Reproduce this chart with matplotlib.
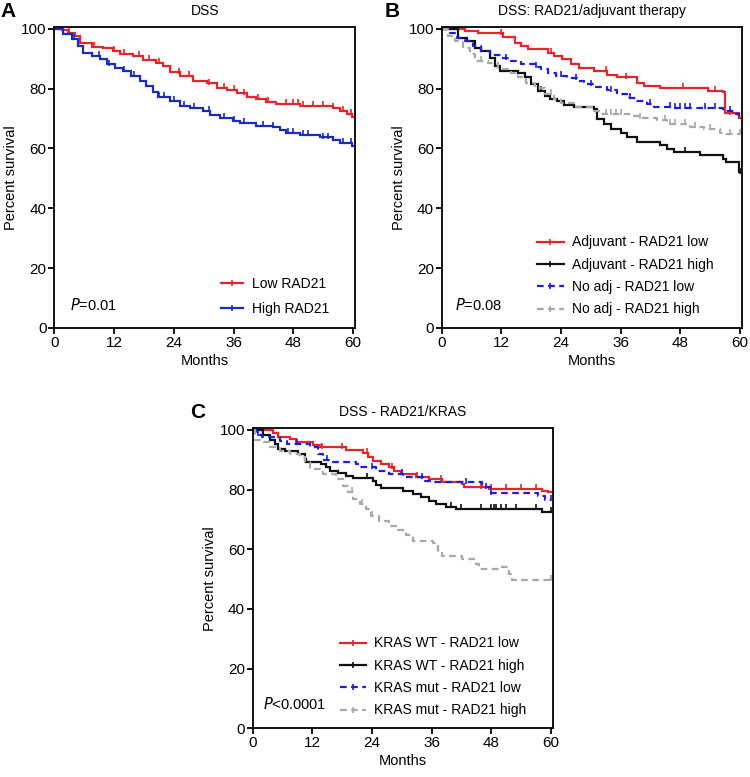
import numpy as np
import matplotlib
matplotlib.use('Agg')
from matplotlib import pyplot as plt
from matplotlib.lines import Line2D

plt.rcParams['font.family'] = ['Liberation Sans', 'DejaVu Sans']
plt.rcParams['font.size'] = 10.5

# ---- Panel A: DSS ----
a_low_t = [0, 1.5, 2.8, 4.1, 5.2, 7.5, 9.8, 11.8, 13.2, 15.9, 17.9, 20.5, 21.9, 23.2, 25.2, 27.9,
           30.6, 32.6, 34.6, 36.6, 38.6, 40.6, 42.6, 44.6, 49.3, 56.0, 57.3, 58.7, 59.7]
a_low_s = [100, 99.5, 98.7, 97.6, 95.3, 93.9, 93.5, 92.6, 91.7, 90.9, 89.5, 88.7, 87.6, 85.4, 84.3, 82.6,
           81.7, 80.2, 79.5, 78.4, 77.3, 76.5, 75.6, 74.8, 74.3, 73.5, 72.6, 71.5, 70.6]
a_high_t = [0, 1.8, 3.5, 4.8, 5.8, 7.5, 9.2, 10.5, 12.2, 13.8, 15.5, 17.2, 18.5, 19.9, 20.9, 23.2, 25.2,
            27.2, 29.9, 31.2, 33.2, 35.9, 37.3, 40.6, 43.9, 45.3, 46.6, 49.3, 53.3, 56.0, 57.3, 59.8]
a_high_s = [100, 98.1, 96.5, 94.2, 92.0, 90.9, 89.8, 88.1, 87.0, 85.9, 84.3, 82.6, 80.9, 78.7, 77.1, 75.9, 74.3,
            73.5, 72.6, 71.0, 70.2, 69.3, 68.4, 67.6, 67.3, 66.0, 65.1, 64.5, 63.7, 62.9, 61.8, 60.8]
a_low_c = [1, 3, 8, 12, 14, 17, 19, 21, 25, 27, 31, 34, 36, 38, 41, 43, 46.5, 48, 49, 50, 52, 54, 56, 58, 59.5]
a_high_c = [1, 4, 9, 11, 14, 16, 21, 22, 24, 26, 28, 31, 34, 36, 38, 42, 44, 47, 48, 50, 51, 54, 55, 58, 59.5]

# ---- Panel B: DSS: RAD21/adjuvant therapy ----
b_adj_low_t = [0, 4.7, 7.3, 12.3, 14.7, 16.0, 17.3, 21.3, 22.7, 24.3, 26.0, 27.7, 30.7, 33.3, 35.3,
               39.3, 40.7, 44.0, 53.7, 56.7, 57.0, 59.9]
b_adj_low_s = [100, 99.2, 98.4, 97.2, 95.3, 94.2, 93.1, 92.0, 90.9, 89.8, 88.3, 87.0, 85.9, 84.6, 83.7,
               82.0, 80.9, 80.1, 79.2, 78.7, 71.7, 70.0]
b_adj_high_t = [0, 3.3, 5.0, 6.7, 8.0, 9.7, 10.7, 11.7, 15.3, 16.7, 18.0, 19.3, 20.7, 21.7, 23.3, 24.7,
                26.7, 30.7, 31.3, 32.7, 34.0, 36.0, 37.3, 39.3, 44.0, 45.3, 46.7, 52.0, 56.7, 57.3, 59.9]
b_adj_high_s = [100, 97.0, 95.9, 93.7, 92.6, 90.3, 87.6, 85.7, 85.3, 83.7, 81.4, 79.2, 77.6, 76.4, 75.9, 74.6,
                73.7, 73.1, 69.8, 68.1, 66.4, 65.3, 63.7, 62.0, 61.2, 59.8, 58.7, 57.9, 56.4, 55.3, 52.0]
b_noadj_low_t = [0, 1.7, 3.0, 4.7, 6.3, 8.0, 9.7, 12.0, 14.0, 16.0, 18.7, 20.0, 21.3, 23.0, 25.3, 27.3,
                 28.7, 30.7, 33.3, 35.3, 37.3, 39.3, 41.3, 42.7, 46.7, 56.7, 59.3, 59.9]
b_noadj_low_s = [100, 98.7, 97.0, 95.9, 94.2, 92.6, 91.2, 90.1, 89.2, 88.1, 87.2, 86.4, 85.3, 84.2, 83.4, 82.6,
                 81.4, 80.6, 79.4, 78.1, 77.0, 75.9, 74.8, 73.9, 73.4, 72.6, 71.4, 69.5]
b_noadj_high_t = [0, 1.3, 2.7, 4.3, 5.7, 6.7, 9.3, 11.3, 14.0, 15.3, 17.0, 18.7, 20.7, 22.7, 24.0, 26.7,
                  30.7, 32.0, 38.7, 40.0, 43.3, 45.3, 50.0, 52.7, 56.0, 57.3]
b_noadj_high_s = [100, 97.6, 95.9, 93.7, 91.4, 89.2, 88.7, 86.4, 85.3, 83.7, 82.0, 80.1, 78.1, 76.4, 75.3, 73.7,
                  72.6, 71.4, 70.9, 70.3, 69.4, 68.1, 67.2, 66.4, 65.3, 64.8]
b_adj_low_c = [1, 12, 22, 33, 37, 48.5, 55, 58]
b_adj_high_c = [3, 20, 49, 60]
b_noadj_low_c = [1, 13, 19, 24, 27, 30, 34, 38, 42, 46, 47, 48, 49, 50, 53, 55, 58]
b_noadj_high_c = [8, 22, 33, 34, 35, 36, 40, 45, 46, 47, 49, 51, 54, 58, 60]

# ---- Panel C: DSS - RAD21/KRAS ----
c_wt_low_t = [0, 4.1, 5.1, 7.5, 8.8, 12.1, 13.5, 18.8, 22.2, 23.2, 24.2, 25.8, 27.5, 28.5, 29.8, 32.8,
              35.5, 38.2, 42.2, 42.5, 47.5, 58.2, 59.5]
c_wt_low_s = [100, 98.8, 97.7, 96.9, 95.8, 95.0, 94.1, 93.2, 92.4, 91.0, 89.6, 88.5, 87.4, 86.3, 85.2, 84.3,
              83.4, 82.6, 81.8, 80.7, 80.2, 79.6, 79.1]
c_wt_high_t = [0, 2.1, 3.5, 4.5, 5.1, 6.5, 9.1, 10.5, 10.8, 13.8, 14.8, 15.5, 17.2, 18.8, 20.2, 24.2, 24.8,
               25.8, 30.2, 32.2, 33.8, 35.5, 36.8, 38.9, 40.9, 58.2]
c_wt_high_s = [100, 98.3, 96.7, 95.2, 93.5, 92.8, 91.9, 90.2, 89.1, 88.5, 87.4, 86.3, 85.4, 84.6, 83.9, 83.0, 81.6,
               80.5, 79.6, 78.5, 77.4, 76.3, 75.2, 74.3, 73.5, 72.4]
c_mut_low_t = [0, 0.8, 1.8, 5.5, 6.8, 11.5, 13.2, 14.2, 15.5, 20.8, 21.5, 24.8, 27.5, 30.2, 34.2, 36.2,
               46.2, 47.9, 57.5, 58.9]
c_mut_low_s = [100, 98.3, 97.7, 96.3, 95.2, 94.1, 91.9, 89.9, 89.3, 88.5, 87.4, 86.3, 85.2, 84.1, 83.0, 82.4,
               80.7, 78.7, 77.9, 76.5]
c_mut_high_t = [0, 0.5, 1.5, 3.5, 5.5, 7.5, 9.5, 10.5, 11.5, 14.2, 16.8, 18.2, 19.2, 20.2, 21.5, 22.8, 23.8,
                25.5, 27.5, 29.2, 30.8, 32.2, 36.2, 37.2, 38.2, 42.2, 44.9, 45.5, 49.5, 51.5, 52.2]
c_mut_high_s = [100, 96.7, 95.8, 94.1, 93.0, 91.9, 90.8, 89.1, 86.9, 85.2, 83.5, 81.3, 79.1, 76.8, 75.2, 73.5, 71.3,
                69.6, 67.9, 66.3, 64.6, 62.9, 62.0, 59.0, 57.6, 56.8, 55.1, 53.5, 54.0, 51.8, 49.6]
c_wt_low_c = [1, 3, 14, 18, 23, 28, 33, 38, 46, 48, 51, 54, 57]
c_wt_high_c = [23, 40, 42, 46, 48, 48.5, 49, 50, 51, 53, 57, 60]
c_mut_low_c = [1, 9, 15, 24, 30, 34, 43, 47, 48, 60]
c_mut_high_c = [20, 22, 24, 60]

RED = '#e3262b'
BLUE_A = '#1c2bb8'
BLUE = '#1d1de0'
BLACK = '#111111'
GRAY = '#a8a8a8'
DASH = (0, (3, 2))


def step_at(t, s, x):
    idx = np.searchsorted(t, x, side='right') - 1
    return np.asarray(s)[idx]


def km(ax, t, s, cens, color, ls='-', lw=1.6):
    t = list(t) + [60]
    s = list(s) + [s[-1]]
    ax.step(t, s, where='post', color=color, lw=lw, ls=ls, solid_joinstyle='miter')
    cy = step_at(np.array(t), s, np.array(cens))
    ax.plot(cens, cy + 0.6, ls='none', marker='|', ms=4, mew=1.2, color=color)


def style(ax, title, letter, dx):
    ax.set_xlim(0, 60.4)
    ax.set_ylim(0, 100.5)
    ax.set_xticks([0, 12, 24, 36, 48, 60])
    ax.set_yticks([0, 20, 40, 60, 80, 100])
    ax.tick_params(direction='out', length=4, width=1.3, pad=1.5, labelsize=11)
    ax.tick_params(top=False, right=False)
    for sp in ax.spines.values():
        sp.set_linewidth(1.3)
    ax.set_xlabel('Months', labelpad=3)
    ax.set_ylabel('Percent survival', labelpad=2)
    ax.set_title(title, fontsize=10, pad=9)
    ax.text(dx, 1.02, letter, transform=ax.transAxes, fontsize=15, fontweight='bold',
            ha='left', va='bottom')


def handle(color, ls='-'):
    return Line2D([0], [0], color=color, ls=ls, lw=1.6, marker='|', ms=4, mew=1.2)


fig = plt.figure(figsize=(7.5, 7.77), dpi=100)
axA = fig.add_axes([0.0724, 0.578, 0.401, 0.387])
axB = fig.add_axes([0.589, 0.578, 0.400, 0.387])
axC = fig.add_axes([0.337, 0.0627, 0.400, 0.386])

leg_kw = dict(loc='lower left', frameon=False, fontsize=10, borderpad=0, borderaxespad=0,
              handletextpad=0.6)

# A
km(axA, a_low_t, a_low_s, a_low_c, RED)
km(axA, a_high_t, a_high_s, a_high_c, BLUE_A)
style(axA, 'DSS', 'A', -0.18)
axA.text(3.2, 6, r'$P$=0.01', fontsize=10.5)
axA.legend([handle(RED), handle(BLUE_A)], ['Low RAD21', 'High RAD21'],
           bbox_to_anchor=(0.555, 0.04), handlelength=1.6, labelspacing=0.8, **leg_kw)

# B
km(axB, b_adj_low_t, b_adj_low_s, b_adj_low_c, RED)
km(axB, b_adj_high_t, b_adj_high_s, b_adj_high_c, BLACK)
km(axB, b_noadj_low_t, b_noadj_low_s, b_noadj_low_c, BLUE, ls=DASH)
km(axB, b_noadj_high_t, b_noadj_high_s, b_noadj_high_c, GRAY, ls=DASH)
style(axB, 'DSS: RAD21/adjuvant therapy', 'B', -0.19)
axB.text(2.7, 6, r'$P$=0.08', fontsize=10.5)
axB.legend([handle(RED), handle(BLACK), handle(BLUE, DASH), handle(GRAY, DASH)],
           ['Adjuvant - RAD21 low', 'Adjuvant - RAD21 high', 'No adj - RAD21 low', 'No adj - RAD21 high'],
           bbox_to_anchor=(0.318, 0.038), handlelength=1.9, labelspacing=0.6, **leg_kw)

# C
km(axC, c_wt_low_t, c_wt_low_s, c_wt_low_c, RED)
km(axC, c_wt_high_t, c_wt_high_s, c_wt_high_c, BLACK)
km(axC, c_mut_low_t, c_mut_low_s, c_mut_low_c, BLUE, ls=DASH)
km(axC, c_mut_high_t, c_mut_high_s, c_mut_high_c, GRAY, ls=DASH)
style(axC, 'DSS - RAD21/KRAS', 'C', -0.21)
axC.text(2.0, 6.5, r'$P$<0.0001', fontsize=10.5)
axC.legend([handle(RED), handle(BLACK), handle(BLUE, DASH), handle(GRAY, DASH)],
           ['KRAS WT - RAD21 low', 'KRAS WT - RAD21 high', 'KRAS mut - RAD21 low', 'KRAS mut - RAD21 high'],
           bbox_to_anchor=(0.29, 0.036), handlelength=1.9, labelspacing=0.6, **leg_kw)

fig.savefig('out.png', dpi=100)
